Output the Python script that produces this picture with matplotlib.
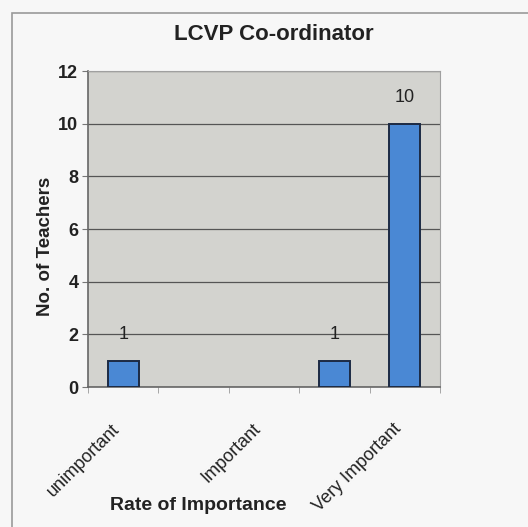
import matplotlib
matplotlib.use("Agg")
import matplotlib.pyplot as plt
from matplotlib.patches import Rectangle
from matplotlib.transforms import ScaledTranslation

categories = ["unimportant", "Of little importance", "Important", "Quite important", "Very Important"]
shown_labels = ["unimportant", "", "Important", "", "Very Important"]
values = [1, 0, 0, 1, 10]
y_ticks = [0, 2, 4, 6, 8, 10, 12]

plt.rcParams['font.family'] = ['Liberation Sans', 'DejaVu Sans']

fig = plt.figure(figsize=(5.28, 5.27), dpi=100, facecolor='#f7f7f7')
fig.patches.append(Rectangle((12/528, -0.2), 1.2, 1.2 - 13/527, transform=fig.transFigure,
                             fill=False, edgecolor='#9a9a9a', linewidth=1.2))

ax = fig.add_axes([88/528, 1 - 387/527, (440-88)/528, (387-71)/527])
ax.set_facecolor('#d3d3cf')
x = list(range(len(categories)))
lws = [1.4 if v > 0 else 0 for v in values]
ax.bar(x, values, width=0.44, color='#4a88d4', edgecolor='#1c2a44', linewidth=lws, zorder=3)
for xi, v in zip(x, values):
    if v > 0:
        ax.text(xi, v + 1, str(v), ha='center', va='center', fontsize=13, color='#222222', zorder=4)

ax.set_xlim(-0.5, 4.5)
ax.set_ylim(0, 12)
ax.set_yticks(y_ticks)
ax.set_yticklabels([str(t) for t in y_ticks], fontsize=13, fontweight='bold', color='#222222')
ax.yaxis.grid(True, color='#555555', linewidth=0.9, zorder=1)
ax.set_axisbelow(True)
ax.tick_params(axis='y', length=4, color='#777777', pad=3)

ax.set_xticks(x)
ax.set_xticklabels(shown_labels, rotation=45, ha='right', rotation_mode='anchor',
                   fontsize=13, color='#222222')
ax.tick_params(axis='x', length=0, pad=24)
offset = ScaledTranslation(-12/100, 0, fig.dpi_scale_trans)
for lbl in ax.get_xticklabels():
    lbl.set_transform(lbl.get_transform() + offset)
ax.set_xticks([i - 0.5 for i in range(len(categories) + 1)], minor=True)
ax.tick_params(axis='x', which='minor', length=4, color='#999999')

for s in ['top', 'right']:
    ax.spines[s].set_color('#a0a0a0')
    ax.spines[s].set_linewidth(0.8)
for s in ['left', 'bottom']:
    ax.spines[s].set_color('#666666')
    ax.spines[s].set_linewidth(1.2)

fig.text(46/528, 1 - 246/527, "No. of Teachers", rotation=90, ha='center', va='center',
         fontsize=13.5, fontweight='bold', color='#222222')
fig.text(274/528, 1 - 35/527, "LCVP Co-ordinator", ha='center', va='center',
         fontsize=16, fontweight='bold', color='#222222')
fig.text(198/528, 1 - 505/527, "Rate of Importance", ha='center', va='center',
         fontsize=14, fontweight='bold', color='#222222')

fig.savefig("out.png", dpi=100, facecolor=fig.get_facecolor())
